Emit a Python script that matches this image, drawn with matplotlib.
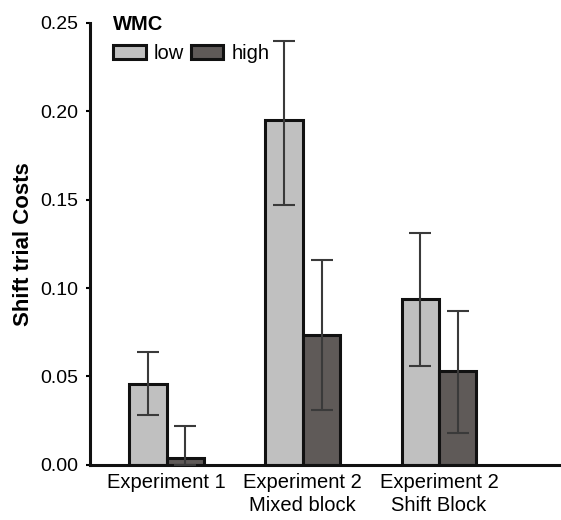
import matplotlib
matplotlib.use("Agg")
import matplotlib.pyplot as plt
import numpy as np

categories = ["Experiment 1", "Experiment 2\nMixed block", "Experiment 2\nShift Block"]
groups = ["low", "high"]
low_vals = [0.046, 0.195, 0.094]
high_vals = [0.004, 0.0735, 0.053]
low_err_lo = [0.028, 0.147, 0.056]
low_err_hi = [0.064, 0.240, 0.131]
high_err_lo = [0.000, 0.031, 0.018]
high_err_hi = [0.022, 0.116, 0.087]
yticks = [0.00, 0.05, 0.10, 0.15, 0.20, 0.25]

plt.rcParams['font.family'] = ['Liberation Sans', 'DejaVu Sans']

fig = plt.figure(figsize=(5.61, 5.20), dpi=100)
ax = fig.add_axes([0.160, 0.106, 0.840, 0.850])

x = np.arange(len(categories))
w = 0.275
colors = ["#c0c0c0", "#5f5a58"]

for i, (vals, lo, hi) in enumerate([(low_vals, low_err_lo, low_err_hi),
                                     (high_vals, high_err_lo, high_err_hi)]):
    xs = x + (i - 0.5) * w
    ax.bar(xs, vals, width=w, color=colors[i], edgecolor="#111111",
           linewidth=2.2, label=groups[i], zorder=2)
    vals_a = np.array(vals); lo_a = np.array(lo); hi_a = np.array(hi)
    ax.errorbar(xs, vals_a, yerr=[vals_a - lo_a, hi_a - vals_a], fmt="none",
                ecolor="#3a3a3a", elinewidth=1.5, capsize=8, capthick=1.5, zorder=3)

ax.set_xlim(-0.566, 2.897)
ax.set_ylim(0, 0.25)
ax.set_yticks(yticks)
ax.set_yticklabels([f"{t:.2f}" for t in yticks], fontsize=14)
ax.set_xticks(x)
ax.set_xticklabels(categories, fontsize=14.5, linespacing=1.25)
ax.tick_params(axis='x', length=0, pad=6)
ax.tick_params(axis='y', length=3, width=1.5, pad=5)
for s in ["top", "right"]:
    ax.spines[s].set_visible(False)
for s in ["left", "bottom"]:
    ax.spines[s].set_linewidth(2.2)
    ax.spines[s].set_color("#111111")

ax.set_ylabel("Shift trial Costs", fontsize=16, fontweight="bold", labelpad=5)

leg = ax.legend(loc="upper left", bbox_to_anchor=(0.02, 1.05), ncol=2, frameon=False,
                title="WMC", fontsize=14.5, title_fontproperties={"weight": "bold", "size": 14.5},
                alignment="left", handlelength=1.6, handleheight=0.75, columnspacing=0.35,
                handletextpad=0.4, borderpad=0.2)

fig.savefig("out.png", dpi=100)
